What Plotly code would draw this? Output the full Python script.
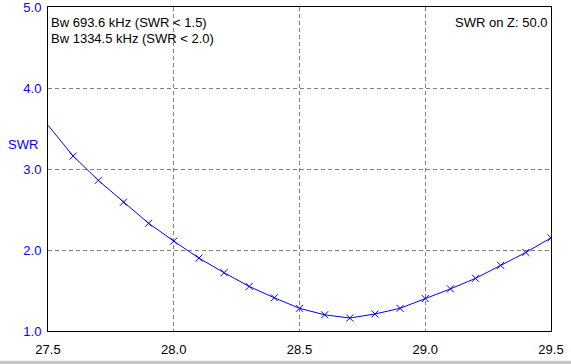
import plotly.graph_objects as go

freq = [27.5, 27.6, 27.7, 27.8, 27.9, 28.0, 28.1, 28.2, 28.3, 28.4, 28.5,
        28.6, 28.7, 28.8, 28.9, 29.0, 29.1, 29.2, 29.3, 29.4, 29.5]
swr = [3.54, 3.16, 2.86, 2.59, 2.33, 2.11, 1.90, 1.72, 1.55, 1.41, 1.28,
       1.20, 1.16, 1.21, 1.28, 1.40, 1.52, 1.65, 1.81, 1.97, 2.15]
marker_freq = freq[1:]
marker_swr = swr[1:]

x_ticks = [27.5, 28.0, 28.5, 29.0, 29.5]
y_ticks = [1.0, 2.0, 3.0, 4.0, 5.0]

info_lines = ["Bw 693.6 kHz (SWR < 1.5)", "Bw 1334.5 kHz (SWR < 2.0)"]
z_text = "SWR on Z: 50.0"
y_title = "SWR"

FONT = "Liberation Sans, Arial, sans-serif"
BLUE = "#0000ff"
FS = 13

fig = go.Figure()
fig.add_trace(go.Scatter(x=freq, y=swr, mode="lines",
                         line=dict(color=BLUE, width=1), hoverinfo="skip",
                         showlegend=False))
fig.add_trace(go.Scatter(x=marker_freq, y=marker_swr, mode="markers",
                         marker=dict(symbol="x-thin", size=7,
                                     line=dict(color=BLUE, width=1)),
                         showlegend=False))

fig.update_layout(
    width=571, height=364,
    margin=dict(l=48, r=20, t=7, b=33),
    paper_bgcolor="white", plot_bgcolor="white",
    font=dict(family=FONT, size=FS, color="black"),
    xaxis=dict(range=[27.5, 29.5], tickvals=x_ticks,
               ticktext=[f"{v:.1f}" for v in x_ticks],
               showgrid=True, gridcolor="#808080", griddash="4px,3px", gridwidth=1,
               showline=True, linecolor="black", linewidth=1, mirror=True,
               zeroline=False, ticks="outside", ticklen=6, tickcolor="white",
               automargin=False, ticklabeloverflow="allow",
               tickfont=dict(family=FONT, size=FS, color="black")),
    yaxis=dict(range=[1.0, 5.0], tickvals=y_ticks,
               ticktext=[f"{v:.1f}" for v in y_ticks],
               showgrid=True, gridcolor="#808080", griddash="4px,3px", gridwidth=1,
               showline=True, linecolor="black", linewidth=1, mirror=True,
               zeroline=False, ticks="outside", ticklen=3, tickcolor="white",
               automargin=False, ticklabeloverflow="allow",
               tickfont=dict(family=FONT, size=FS, color=BLUE)),
)

fig.add_annotation(text=info_lines[0], xref="paper", yref="paper", x=0, y=1,
                   xanchor="left", yanchor="middle", xshift=1, yshift=-15,
                   showarrow=False, font=dict(family=FONT, size=FS, color="black"))
fig.add_annotation(text=info_lines[1], xref="paper", yref="paper", x=0, y=1,
                   xanchor="left", yanchor="middle", xshift=1, yshift=-31,
                   showarrow=False, font=dict(family=FONT, size=FS, color="black"))
fig.add_annotation(text=z_text, xref="paper", yref="paper", x=1, y=1,
                   xanchor="right", yanchor="middle", xshift=-2, yshift=-15,
                   showarrow=False, font=dict(family=FONT, size=FS, color="black"))
fig.add_annotation(text=y_title, xref="paper", yref="y", x=0, y=3.3,
                   xanchor="right", yanchor="middle", xshift=-8,
                   showarrow=False, font=dict(family=FONT, size=FS, color=BLUE))

# window frame strip at the bottom
fig.add_shape(type="rect", xref="paper", yref="paper",
              x0=-0.1, x1=1.1, y0=-0.102, y1=-0.092,
              fillcolor="#c8c8c8", line=dict(width=0), layer="above")

fig.write_html("out.html", config={"displayModeBar": False},
               post_script="document.body.style.margin='0';")
